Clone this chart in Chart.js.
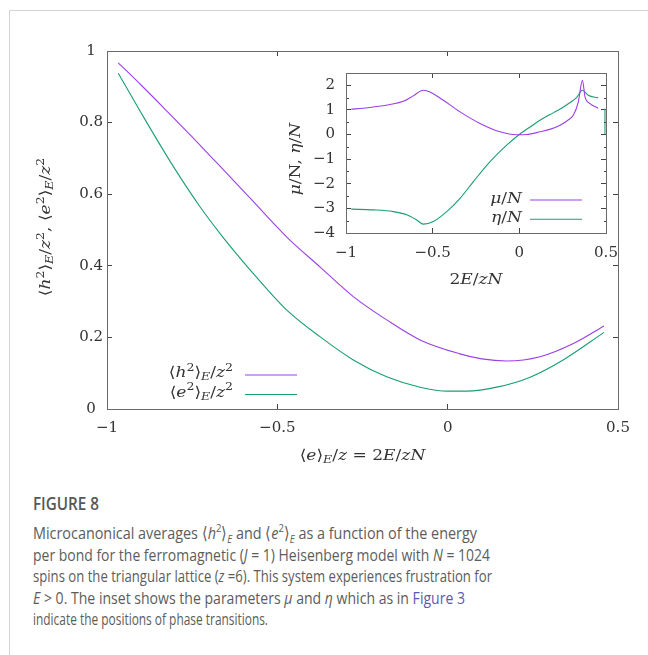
<!DOCTYPE html>
<html>
<head>
<meta charset="utf-8">
<script src="https://cdn.jsdelivr.net/npm/chart.js@4.4.1/dist/chart.umd.min.js"></script>
<style>
  html, body { margin: 0; padding: 0; background: #fff; }
  body { width: 648px; height: 655px; position: relative; overflow: hidden; }
  #frame { position: absolute; left: 9px; top: 10px; right: -2px; bottom: -2px;
           border-left: 1px solid #d4d4d4; border-top: 1px solid #d4d4d4; }
  #mainChart { position: absolute; left: 0; top: 0; }
  #insetChart { position: absolute; left: 280px; top: 60px; }
  #cap { position: absolute; left: 33px; top: 492px; font-family: 'Open Sans', sans-serif; color: #5c5c5c; }
  #cap .fig { font-size: 18px; font-weight: 600; line-height: 22px; white-space: nowrap; transform-origin: 0 50%; color: #575757; }
  #cap .ln { font-size: 17px; line-height: 21.5px; white-space: nowrap; transform-origin: 0 50%; }
  #cap .ln.first { margin-top: 8px; }
  #cap sup, #cap sub { font-size: 0.66em; line-height: 0; }
  #cap .lnk { color: #5b59b0; }
</style>
</head>
<body>
<div id="frame"></div>
<canvas id="mainChart" width="648" height="470"></canvas>
<canvas id="insetChart" width="340" height="235"></canvas>
<div id="cap">
  <div class="fig" data-w="66">FIGURE 8</div>
  <div class="ln first" data-w="444">Microcanonical averages ⟨<i>h</i><sup>2</sup>⟩<sub><i>E</i></sub> and ⟨<i>e</i><sup>2</sup>⟩<sub><i>E</i></sub> as a function of the energy</div>
  <div class="ln" data-w="457">per bond for the ferromagnetic (<i>J</i> = 1) Heisenberg model with <i>N</i> = 1024</div>
  <div class="ln" data-w="459">spins on the triangular lattice (<i>z</i> =6). This system experiences frustration for</div>
  <div class="ln" data-w="432"><i>E</i> &gt; 0. The inset shows the parameters <i>μ</i> and <i>η</i> which as in <span class="lnk">Figure 3</span></div>
  <div class="ln" data-w="235">indicate the positions of phase transitions.</div>
</div>
<script>
// основной график: <h^2>_E/z^2 и <e^2>_E/z^2
const hX = [-0.967, -0.9, -0.825, -0.75, -0.678, -0.575, -0.473, -0.375, -0.277, -0.179, -0.081, 0.036, 0.1, 0.173, 0.271, 0.369, 0.459];
const hY = [0.967, 0.905, 0.833, 0.76, 0.688, 0.584, 0.481, 0.397, 0.314, 0.249, 0.193, 0.154, 0.14, 0.134, 0.146, 0.183, 0.232];
const eX = [-0.967, -0.893, -0.805, -0.727, -0.668, -0.629, -0.571, -0.473, -0.375, -0.277, -0.179, -0.081, 0.0, 0.056, 0.144, 0.242, 0.339, 0.459];
const eY = [0.938, 0.816, 0.677, 0.565, 0.49, 0.444, 0.379, 0.277, 0.202, 0.137, 0.09, 0.061, 0.05, 0.05, 0.061, 0.089, 0.137, 0.214];

// вставка: mu/N и eta/N
const muX = [-0.97, -0.9, -0.842, -0.746, -0.669, -0.612, -0.554, -0.515, -0.438, -0.342, -0.227, -0.111, -0.015, 0.042, 0.119, 0.18, 0.235, 0.28, 0.312, 0.34, 0.364, 0.379, 0.408, 0.454];
const muY = [1.03, 1.07, 1.12, 1.22, 1.35, 1.57, 1.8, 1.73, 1.39, 0.92, 0.45, 0.11, -0.01, 0.0, 0.11, 0.22, 0.38, 0.58, 0.79, 1.32, 2.2, 1.53, 1.26, 1.07];
const etaX = [-0.97, -0.842, -0.727, -0.65, -0.592, -0.554, -0.496, -0.419, -0.342, -0.265, -0.169, -0.073, 0.0, 0.077, 0.119, 0.2, 0.25, 0.293, 0.33, 0.364, 0.397, 0.454];
const etaY = [-3.03, -3.06, -3.13, -3.26, -3.47, -3.64, -3.53, -3.13, -2.59, -1.91, -1.1, -0.43, 0.0, 0.38, 0.58, 0.9, 1.1, 1.3, 1.5, 1.8, 1.6, 1.49];
const etaEdgeX = [0.494, 0.4941];
const etaEdgeY = [1.05, 0.0];

// значения засечек
const MAIN_X_TICKS = [-1, -0.5, 0, 0.5];
const MAIN_Y_TICKS = [0, 0.2, 0.4, 0.6, 0.8, 1];
const INSET_X_TICKS = [-1, -0.5, 0, 0.5];
const INSET_Y_TICKS = [-4, -3, -2, -1, 0, 1, 2];

// подписи (сегменты: r - прямой, i - курсив, sup/sub - индексы)
const Y_TITLE_MAIN = [['⟨', 'r'], ['h', 'i'], ['2', 'sup'], ['⟩', 'r'], ['E', 'sub'], ['/', 'r'], ['z', 'i'], ['2', 'sup'], [', ', 'r'],
                      ['⟨', 'r'], ['e', 'i'], ['2', 'sup'], ['⟩', 'r'], ['E', 'sub'], ['/', 'r'], ['z', 'i'], ['2', 'sup']];
const X_TITLE_MAIN = [['⟨', 'r'], ['e', 'i'], ['⟩', 'r'], ['E', 'sub'], ['/', 'r'], ['z', 'i'], [' = 2', 'r'], ['E', 'i'], ['/', 'r'], ['zN', 'i']];
const LEG_H = [['⟨', 'r'], ['h', 'i'], ['2', 'sup'], ['⟩', 'r'], ['E', 'sub'], ['/', 'r'], ['z', 'i'], ['2', 'sup']];
const LEG_E = [['⟨', 'r'], ['e', 'i'], ['2', 'sup'], ['⟩', 'r'], ['E', 'sub'], ['/', 'r'], ['z', 'i'], ['2', 'sup']];
const Y_TITLE_INSET = [['μ', 'i'], ['/N, ', 'r'], ['η', 'i'], ['/', 'r'], ['N', 'i']];
const X_TITLE_INSET = [['2', 'r'], ['E', 'i'], ['/', 'r'], ['zN', 'i']];
const LEG_MU = [['μ', 'i'], ['/', 'r'], ['N', 'i']];
const LEG_ETA = [['η', 'i'], ['/', 'r'], ['N', 'i']];

const PURPLE = '#9b40e6';
const GREEN = '#1a9e74';
const SERIF = 'DejaVu Serif';
const TEXT = '#333';
const BOX = '#6a6a6a';
const TICK = '#444';

const pts = (xs, ys) => xs.map((x, i) => ({ x: x, y: ys[i] }));
const minusFmt = v => String(Number(v.toFixed(2))).replace('-', '−');

function mathFont(kind, size) {
    if (kind === 'i') return `italic ${size}px ${SERIF}`;
    if (kind === 'sup') return `${Math.round(size * 0.7)}px ${SERIF}`;
    if (kind === 'sub') return `italic ${Math.round(size * 0.7)}px ${SERIF}`;
    return `${size}px ${SERIF}`;
}

function drawMath(ctx, segs, x, y, size, align, stretch) {
    ctx.save();
    ctx.textBaseline = 'alphabetic';
    ctx.textAlign = 'left';
    ctx.fillStyle = TEXT;
    let w = 0;
    const widths = segs.map(([t, k]) => {
        ctx.font = mathFont(k, size);
        const m = ctx.measureText(t).width;
        w += m;
        return m;
    });
    ctx.translate(x, y);
    ctx.scale(stretch, 1);
    let cx = align === 'right' ? -w : (align === 'center' ? -w / 2 : 0);
    segs.forEach(([t, k], i) => {
        ctx.font = mathFont(k, size);
        const dy = k === 'sup' ? -size * 0.42 : (k === 'sub' ? size * 0.22 : 0);
        ctx.fillText(t, cx, dy);
        cx += widths[i];
    });
    ctx.restore();
}

// настройки рамки держим отдельно от chart.options
const frameCfg = new Map();

// рамка, мелкие засечки, подписи осей и легенда (крупные засечки и рамку рисуют сами оси)
const gnuFrame = {
    id: 'gnuframe',
    afterDraw(chart) {
        const o = frameCfg.get(chart.canvas.id);
        const ctx = chart.ctx;
        const a = chart.chartArea;
        const y = chart.scales.y;
        const l = Math.round(a.left), t = Math.round(a.top), r = Math.round(a.right), b = Math.round(a.bottom);

        ctx.save();
        ctx.fillStyle = TICK;
        if (o.minorStep) {
            for (let v = y.min; v <= y.max + 1e-9; v += o.minorStep) {
                if (Math.abs(v - Math.round(v)) < 1e-9) continue;
                const py = Math.round(y.getPixelForValue(v));
                ctx.fillRect(l, py, o.minorLen, 1);
                ctx.fillRect(r - o.minorLen + 1, py, o.minorLen, 1);
            }
        }
        ctx.fillStyle = BOX;
        ctx.fillRect(l, t, r - l + 1, 1);
        ctx.fillRect(l, b, r - l + 1, 1);
        ctx.fillRect(l, t, 1, b - t + 1);
        ctx.fillRect(r, t, 1, b - t + 1);
        ctx.restore();

        // подписи осей
        drawMath(ctx, o.xTitle.segs, (a.left + a.right) / 2, o.xTitle.y, o.fontSize, 'center', o.stretch);
        ctx.save();
        ctx.translate(o.yTitle.x, o.yTitle.y);
        ctx.rotate(-Math.PI / 2);
        drawMath(ctx, o.yTitle.segs, 0, 0, o.fontSize, 'center', o.stretch);
        ctx.restore();

        // легенда
        const lg = o.legend;
        lg.labels.forEach((segs, i) => {
            const ly = a.bottom - lg.rows[i];
            drawMath(ctx, segs, a.left + lg.textRight, ly + lg.baselineShift, o.fontSize, 'right', o.stretch);
            ctx.save();
            ctx.strokeStyle = chart.data.datasets[i].borderColor;
            ctx.lineWidth = 1.1;
            ctx.beginPath();
            ctx.moveTo(a.left + lg.lineFrom, ly);
            ctx.lineTo(a.left + lg.lineTo, ly);
            ctx.stroke();
            ctx.restore();
        });
    }
};

function lineSet(xs, ys, color) {
    return {
        data: pts(xs, ys),
        borderColor: color,
        borderWidth: 1.1,
        pointRadius: 0,
        fill: false,
        cubicInterpolationMode: 'monotone'
    };
}

// засечки внутрь: отрицательная длина, рамка - граница оси
const inwardGrid = { display: true, drawOnChartArea: false, drawTicks: true, tickLength: -5, color: TICK };
const boxBorder = { display: true, color: BOX, width: 1 };

function axisX(pos, min, max, tickVals, pad, h) {
    return {
        type: 'linear', position: pos, min: min, max: max,
        grid: inwardGrid, border: boxBorder,
        ticks: { display: pos === 'bottom', padding: pad, color: TEXT, font: { family: SERIF, size: 15 }, maxRotation: 0, autoSkip: false, callback: minusFmt },
        afterBuildTicks: s => { s.ticks = tickVals.map(v => ({ value: v })); },
        afterFit: s => { s.height = h; s.paddingLeft = 0; s.paddingRight = 0; }
    };
}

function axisY(pos, min, max, tickVals, pad, w, align) {
    return {
        type: 'linear', position: pos, min: min, max: max,
        grid: inwardGrid, border: boxBorder,
        ticks: { display: pos === 'left', padding: pad, crossAlign: align, autoSkip: false, color: TEXT, font: { family: SERIF, size: 15 }, callback: minusFmt },
        afterBuildTicks: s => { s.ticks = tickVals.map(v => ({ value: v })); },
        afterFit: s => { s.width = w; s.paddingTop = 0; s.paddingBottom = 0; }
    };
}

Chart.defaults.animation = false;

frameCfg.set('mainChart', {
    minorStep: 0, fontSize: 15, stretch: 1.14,
    xTitle: { segs: X_TITLE_MAIN, y: 460 },
    yTitle: { segs: Y_TITLE_MAIN, x: 50, y: 227 },
    legend: { textRight: 126, lineFrom: 138, lineTo: 190, rows: [34, 14.5], baselineShift: 2, labels: [LEG_H, LEG_E] }
});
frameCfg.set('insetChart', {
    minorStep: 0.5, minorLen: 3, fontSize: 15, stretch: 1.14,
    xTitle: { segs: X_TITLE_INSET, y: 224 },
    yTitle: { segs: Y_TITLE_INSET, x: 20, y: 99 },
    legend: { textRight: 176, lineFrom: 184, lineTo: 236, rows: [33, 13.7], baselineShift: 3, labels: [LEG_MU, LEG_ETA] }
});

new Chart(document.getElementById('mainChart'), {
    type: 'line',
    data: { datasets: [lineSet(hX, hY, PURPLE), lineSet(eX, eY, GREEN)] },
    options: {
        responsive: false,
        devicePixelRatio: 1,
        layout: { padding: { left: 0, top: 51, right: 30, bottom: 0 } },
        scales: {
            x: axisX('bottom', -1, 0.5, MAIN_X_TICKS, 15, 61),
            x2: axisX('top', -1, 0.5, MAIN_X_TICKS, 0, 0),
            y: axisY('left', 0, 1, MAIN_Y_TICKS, 9, 107, 'center'),
            y2: axisY('right', 0, 1, MAIN_Y_TICKS, 0, 0, 'near')
        },
        plugins: { legend: { display: false }, tooltip: { enabled: false } }
    },
    plugins: [gnuFrame]
});

new Chart(document.getElementById('insetChart'), {
    type: 'line',
    data: { datasets: [lineSet(muX, muY, PURPLE), lineSet(etaX, etaY, GREEN),
                       Object.assign(lineSet(etaEdgeX, etaEdgeY, GREEN), { cubicInterpolationMode: 'default', tension: 0 })] },
    options: {
        responsive: false,
        devicePixelRatio: 1,
        layout: { padding: { left: 0, top: 13, right: 14, bottom: 0 } },
        scales: {
            x: axisX('bottom', -1, 0.5, INSET_X_TICKS, 16, 62),
            x2: axisX('top', -1, 0.5, INSET_X_TICKS, 0, 0),
            y: axisY('left', -4, 2.5, INSET_Y_TICKS, 16, 66, 'near'),
            y2: axisY('right', -4, 2.5, INSET_Y_TICKS, 0, 0, 'near')
        },
        plugins: { legend: { display: false }, tooltip: { enabled: false } }
    },
    plugins: [gnuFrame]
});

// подгоняем ширину строк подписи под образец (в образце узкий шрифт)
document.querySelectorAll('#cap [data-w]').forEach(el => {
    el.style.width = 'max-content';
    const nat = el.getBoundingClientRect().width;
    el.style.transform = `scaleX(${Number(el.dataset.w) / nat})`;
});
</script>
</body>
</html>
